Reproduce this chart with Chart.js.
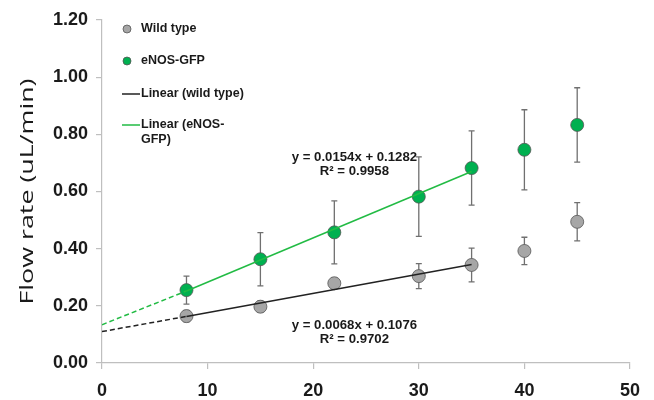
<!DOCTYPE html>
<html>
<head>
<meta charset="utf-8">
<script src="https://cdn.jsdelivr.net/npm/chart.js@4"></script>
<style>
  html, body { margin: 0; padding: 0; background: #fff; }
  #wrap { width: 654px; height: 400px; }
</style>
</head>
<body>
<div id="wrap"><canvas id="flowChart" width="654" height="400"></canvas></div>
<script>
// measured points (x = pump setting)
const pumpSpeed = [8, 15, 22, 30, 35, 40, 45];
const wildType = [0.164, 0.197, 0.279, 0.304, 0.343, 0.392, 0.494];
const wildTypeErr = [0.02, 0.02, 0.02, 0.044, 0.059, 0.048, 0.067];
const enosGfp = [0.255, 0.363, 0.457, 0.582, 0.682, 0.746, 0.833];
const enosGfpErr = [0.049, 0.093, 0.110, 0.139, 0.130, 0.140, 0.130];

// trend lines: dashed from 0 to 8, solid from 8 to 35
const trendX = [0, 8, 35];
const wildTrend = [0.110, 0.163, 0.345];
const enosTrend = [0.134, 0.252, 0.670];

const yTicks = [0, 0.2, 0.4, 0.6, 0.8, 1.0, 1.2];
const xTicks = [0, 10, 20, 30, 40, 50];

const wildEq = ['y = 0.0068x + 0.1076', 'R² = 0.9702'];
const enosEq = ['y = 0.0154x + 0.1282', 'R² = 0.9958'];
const yTitle = 'Flow rate (uL/min)';

const GRAY = '#a6a6a6';
const GREEN = '#00b050';
const LINE_GREEN = '#22bb44';
const EDGE = '#555555';
const AXIS = '#bfbfbf';
const TEXT = '#1a1a1a';
const SMALL_FONT = 'bold 12.5px "Liberation Sans", Arial, sans-serif';
const EQ_FONT = 'bold 13.2px "Liberation Sans", Arial, sans-serif';

const toPoints = (xs, ys) => xs.map((x, i) => ({ x: x, y: ys[i] }));

// error bars under the markers
const errorBars = {
    id: 'errorBars',
    beforeDatasetsDraw(chart) {
        const { ctx, scales: { x, y } } = chart;
        const sets = [[wildType, wildTypeErr], [enosGfp, enosGfpErr]];
        ctx.save();
        ctx.strokeStyle = '#707070';
        ctx.lineWidth = 1.3;
        sets.forEach(([vals, errs]) => {
            vals.forEach((v, i) => {
                const px = x.getPixelForValue(pumpSpeed[i]);
                const top = y.getPixelForValue(v + errs[i]);
                const bot = y.getPixelForValue(v - errs[i]);
                ctx.beginPath();
                ctx.moveTo(px, top); ctx.lineTo(px, bot);
                ctx.moveTo(px - 3, top); ctx.lineTo(px + 3, top);
                ctx.moveTo(px - 3, bot); ctx.lineTo(px + 3, bot);
                ctx.stroke();
            });
        });
        ctx.restore();
    }
};

// legend, trendline equations and the stretched y title
const extras = {
    id: 'extras',
    afterDraw(chart) {
        const { ctx, scales: { x, y }, chartArea } = chart;
        ctx.save();
        ctx.font = SMALL_FONT;
        ctx.fillStyle = TEXT;
        ctx.textBaseline = 'middle';

        // legend
        const lx = 127, tx = 141;
        const dot = (cy, fill) => {
            ctx.beginPath();
            ctx.arc(lx, cy, 4, 0, Math.PI * 2);
            ctx.fillStyle = fill; ctx.fill();
            ctx.strokeStyle = EDGE; ctx.lineWidth = 0.8; ctx.stroke();
        };
        const dash = (cy, col) => {
            ctx.beginPath();
            ctx.moveTo(122, cy); ctx.lineTo(140, cy);
            ctx.strokeStyle = col; ctx.lineWidth = 1.5; ctx.stroke();
        };
        dot(29, GRAY);
        dot(61, GREEN);
        dash(94, '#222');
        dash(125, LINE_GREEN);
        ctx.fillStyle = TEXT;
        ctx.textAlign = 'left';
        ctx.fillText('Wild type', tx, 29);
        ctx.fillText('eNOS-GFP', tx, 61);
        ctx.fillText('Linear (wild type)', tx, 94);
        ctx.fillText('Linear (eNOS-', tx, 125);
        ctx.fillText('GFP)', tx, 140);

        // equations
        ctx.font = EQ_FONT;
        ctx.textAlign = 'center';
        const eq = (lines, xv, yv) => {
            const px = x.getPixelForValue(xv), py = y.getPixelForValue(yv);
            ctx.fillText(lines[0], px, py);
            ctx.fillText(lines[1], px, py + 14);
        };
        eq(enosEq, 23.9, 0.718);
        eq(wildEq, 23.9, 0.133);

        // y axis title
        ctx.translate(28, (chartArea.top + chartArea.bottom) / 2);
        ctx.rotate(-Math.PI / 2);
        ctx.font = '19px "Open Sans", sans-serif';
        const w = ctx.measureText(yTitle).width;
        ctx.scale(226 / w, 1);
        ctx.fillText(yTitle, 0, 0);
        ctx.restore();
    }
};

const dashFirst = ctx => ctx.p0DataIndex === 0 ? [5, 3] : undefined;

new Chart(document.getElementById('flowChart'), {
    type: 'scatter',
    data: {
        datasets: [{
            label: 'Linear (wild type)',
            type: 'line',
            data: toPoints(trendX, wildTrend),
            borderColor: '#222',
            borderWidth: 1.5,
            pointRadius: 0,
            segment: { borderDash: dashFirst },
            order: 1
        }, {
            label: 'Linear (eNOS-GFP)',
            type: 'line',
            data: toPoints(trendX, enosTrend),
            borderColor: LINE_GREEN,
            borderWidth: 1.5,
            pointRadius: 0,
            segment: { borderDash: dashFirst },
            order: 1
        }, {
            label: 'Wild type',
            data: toPoints(pumpSpeed, wildType),
            backgroundColor: GRAY,
            borderColor: EDGE,
            borderWidth: 0.8,
            pointRadius: 6.5,
            order: 2
        }, {
            label: 'eNOS-GFP',
            data: toPoints(pumpSpeed, enosGfp),
            backgroundColor: GREEN,
            borderColor: EDGE,
            borderWidth: 0.8,
            pointRadius: 6.5,
            order: 2
        }]
    },
    options: {
        responsive: false,
        animation: false,
        layout: { padding: { top: 20, right: 24, left: 0, bottom: 0 } },
        plugins: {
            legend: { display: false },
            tooltip: { enabled: false }
        },
        scales: {
            x: {
                min: 0, max: 50,
                afterBuildTicks: s => { s.ticks = xTicks.map(v => ({ value: v })); },
                afterFit: s => { s.height = 37; },
                border: { color: AXIS, width: 1.2 },
                grid: { drawOnChartArea: false, color: AXIS, tickLength: 6, lineWidth: 1.2 },
                ticks: {
                    color: TEXT,
                    padding: 11,
                    font: { family: '"Liberation Sans", Arial, sans-serif', size: 18, weight: 'bold' }
                }
            },
            y: {
                min: 0, max: 1.2,
                afterBuildTicks: s => { s.ticks = yTicks.map(v => ({ value: v })); },
                afterFit: s => { s.width = 102; },
                border: { color: AXIS, width: 1.2 },
                grid: { drawOnChartArea: false, color: AXIS, tickLength: 6, lineWidth: 1.2 },
                ticks: {
                    color: TEXT,
                    padding: 8,
                    callback: v => v.toFixed(2),
                    font: { family: '"Liberation Sans", Arial, sans-serif', size: 18, weight: 'bold' }
                }
            }
        }
    },
    plugins: [errorBars, extras]
});
</script>
</body>
</html>
